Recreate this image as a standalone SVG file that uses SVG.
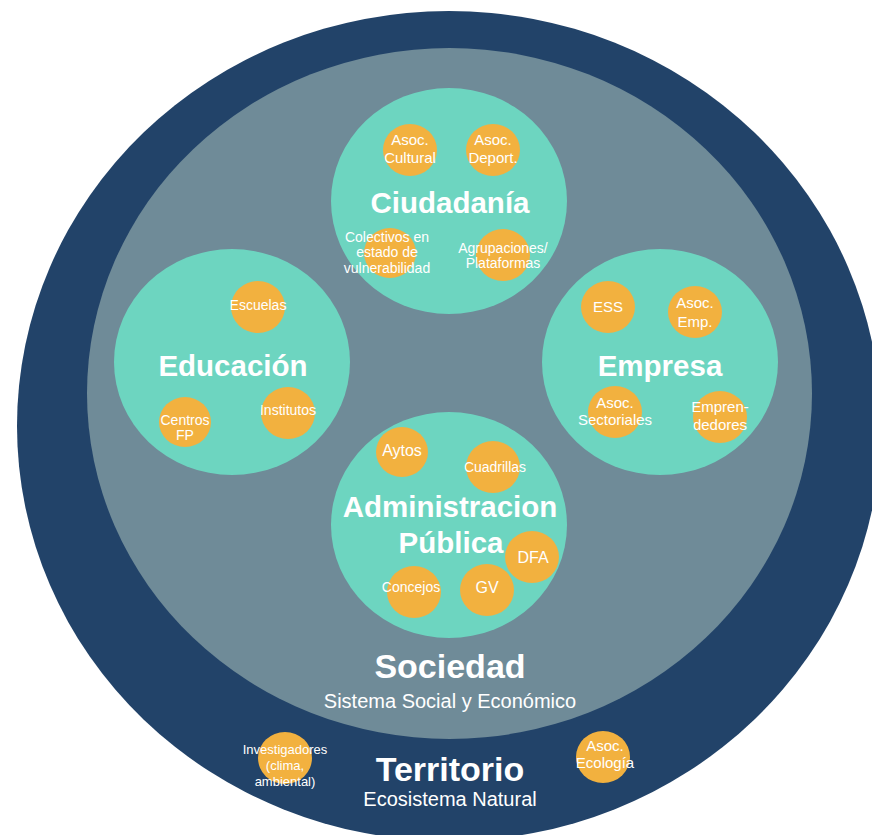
<svg xmlns="http://www.w3.org/2000/svg" width="872" height="835" viewBox="0 0 872 835">
<style>
.terr{fill:#224369}
.soc{fill:#6F8B98}
.sec{fill:#6DD5C0}
.act{fill:#F2B13F}
text{font-family:"Liberation Sans",Arial,sans-serif;fill:#ffffff;text-anchor:middle}
.t{font-weight:bold;font-size:29.5px}
.big{font-weight:bold;font-size:34px}
.sub{font-size:20px}
.s{font-size:14px}
.m{font-size:15px}
.l{font-size:16px}
.xs{font-size:13px}
</style>
<rect width="872" height="835" fill="#ffffff"/>
<g id="territorio">
<ellipse class="terr" cx="449" cy="426" rx="432" ry="415"/>
</g>
<g id="sociedad">
<ellipse class="soc" cx="449.5" cy="393.5" rx="362.5" ry="345.5"/>
</g>
<g id="ciudadania">
<ellipse class="sec" cx="449" cy="201" rx="118" ry="113"/>
<ellipse class="act" cx="410" cy="150" rx="27" ry="26"/>
<ellipse class="act" cx="493" cy="150" rx="27" ry="26"/>
<ellipse class="act" cx="390" cy="253" rx="26" ry="25"/>
<ellipse class="act" cx="503" cy="255" rx="27" ry="26"/>
<text class="m" x="410" y="145">Asoc.</text>
<text class="m" x="410" y="163">Cultural</text>
<text class="m" x="493" y="145">Asoc.</text>
<text class="m" x="493" y="163">Deport.</text>
<text class="t" x="450" y="213">Ciudadanía</text>
<text class="s" x="387" y="242">Colectivos en</text>
<text class="s" x="387" y="257">estado de</text>
<text class="s" x="387" y="273">vulnerabilidad</text>
<text class="s" x="503" y="253">Agrupaciones/</text>
<text class="s" x="503" y="268">Plataformas</text>
</g>
<g id="educacion">
<ellipse class="sec" cx="232" cy="362" rx="118" ry="113"/>
<ellipse class="act" cx="258" cy="307" rx="27" ry="26"/>
<ellipse class="act" cx="288" cy="413" rx="27" ry="26"/>
<ellipse class="act" cx="185" cy="422" rx="26" ry="25"/>
<text class="s" x="258" y="310">Escuelas</text>
<text class="t" x="233" y="376">Educación</text>
<text class="s" x="288" y="415">Institutos</text>
<text class="s" x="185" y="425">Centros</text>
<text class="s" x="185" y="440">FP</text>
</g>
<g id="empresa">
<ellipse class="sec" cx="660" cy="362" rx="118" ry="113"/>
<ellipse class="act" cx="608" cy="307" rx="27" ry="26"/>
<ellipse class="act" cx="695" cy="312" rx="27" ry="26"/>
<ellipse class="act" cx="615" cy="412" rx="27" ry="26"/>
<ellipse class="act" cx="720" cy="417" rx="27" ry="26"/>
<text class="m" x="608" y="312">ESS</text>
<text class="m" x="695" y="308">Asoc.</text>
<text class="m" x="695" y="327">Emp.</text>
<text class="t" x="660" y="376">Empresa</text>
<text class="m" x="615" y="408">Asoc.</text>
<text class="m" x="615" y="425">Sectoriales</text>
<text class="m" x="720" y="412">Empren-</text>
<text class="m" x="720" y="430">dedores</text>
</g>
<g id="administracion">
<ellipse class="sec" cx="449" cy="525" rx="118" ry="113"/>
<ellipse class="act" cx="402" cy="452" rx="26" ry="25"/>
<ellipse class="act" cx="493" cy="467" rx="27" ry="26"/>
<ellipse class="act" cx="532" cy="557" rx="27" ry="26"/>
<ellipse class="act" cx="414" cy="592" rx="27" ry="26"/>
<ellipse class="act" cx="487" cy="590" rx="27" ry="26"/>
<text class="l" x="402" y="456">Aytos</text>
<text class="s" x="495" y="472">Cuadrillas</text>
<text class="t" x="450" y="517">Administracion</text>
<text class="t" x="451" y="553">Pública</text>
<text class="l" x="533" y="563">DFA</text>
<text class="s" x="411" y="592">Concejos</text>
<text class="l" x="487" y="593">GV</text>
</g>
<g id="sociedad-label">
<text class="big" x="450" y="678">Sociedad</text>
<text class="sub" x="450" y="708">Sistema Social y Económico</text>
</g>
<g id="territorio-label">
<ellipse class="act" cx="285" cy="758" rx="27" ry="26"/>
<ellipse class="act" cx="603" cy="757" rx="27" ry="26"/>
<text class="xs" x="285" y="754">Investigadores</text>
<text class="xs" x="285" y="770">(clima,</text>
<text class="xs" x="285" y="786">ambiental)</text>
<text class="big" x="450" y="781">Territorio</text>
<text class="sub" x="450" y="806">Ecosistema Natural</text>
<text class="m" x="605" y="751">Asoc.</text>
<text class="m" x="605" y="768">Ecología</text>
</g>
</svg>
